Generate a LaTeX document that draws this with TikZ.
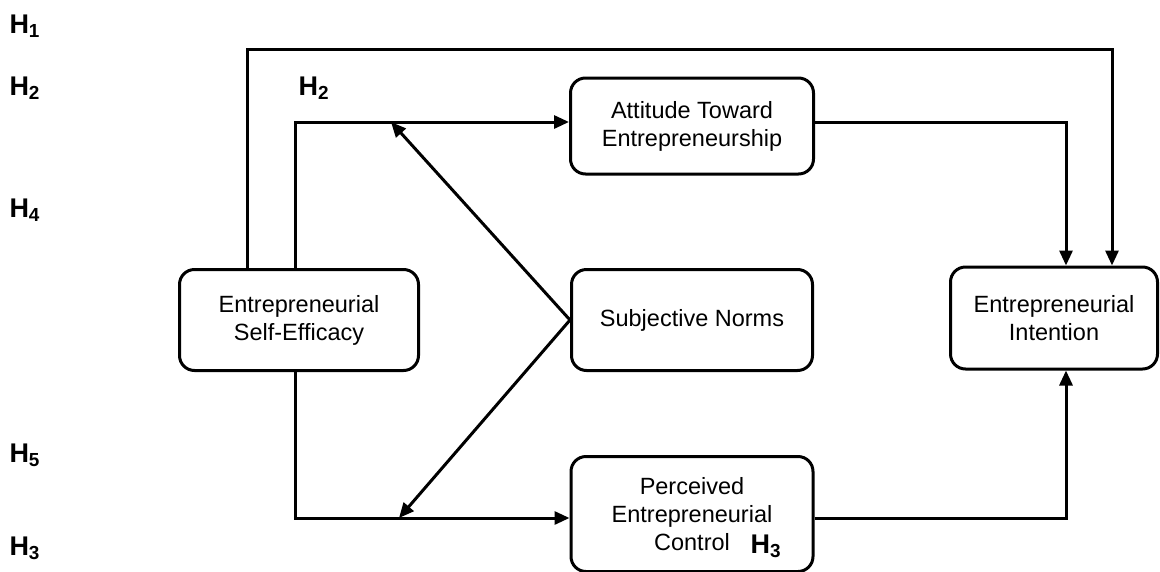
\documentclass[tikz,border=0pt]{standalone}
\usepackage{fontspec}
\setmainfont{Liberation Sans}
\usetikzlibrary{arrows.meta}

\begin{document}
\begin{tikzpicture}[x=1pt,y=-1pt,line width=3pt,
  box/.style={draw,rounded corners=15pt,align=center,inner sep=0pt,
    font=\fontsize{23.5}{28}\selectfont},
  arr/.style={-{Triangle[length=15pt,width=13pt]}},
  hyp/.style={anchor=base west,inner sep=0pt,font=\fontsize{27}{30}\selectfont\bfseries}]
  \useasboundingbox (0,0) rectangle (1160,571);
  % constructs
  \node[box,minimum width=239pt,minimum height=101pt](ese)at(299,320){Entrepreneurial\\Self-Efficacy};
  \node[box,minimum width=243pt,minimum height=96pt](ate)at(692,126){Attitude Toward\\Entrepreneurship};
  \node[box,minimum width=241pt,minimum height=101pt](sn)at(692,320){Subjective Norms};
  \node[box,minimum width=242pt,minimum height=115pt](pec)at(692,514){Perceived\\Entrepreneurial\\Control};
  \node[box,minimum width=207pt,minimum height=102pt](ei)at(1054,318){Entrepreneurial\\Intention};
  % bends
  \coordinate (p1) at (247,49);
  \coordinate (p2) at (1112,49);
  \coordinate (p3) at (295,122);
  \coordinate (p4) at (295,518);
  \coordinate (m1) at (391,122);
  \coordinate (m2) at (399,518);
  % paths
  \draw[arr] (ese.north -| p1) |- (p2) -- (ei.north -| p2);
  \draw[arr] (ese.north -| p3) |- (ate.west |- p3);
  \draw[arr] (ate.east |- p3) -| ([xshift=12pt]ei.north);
  \draw[arr] (ese.south -| p4) |- (pec.west |- p4);
  \draw[arr] (pec.east |- p4) -| ([xshift=12pt]ei.south);
  \draw[arr] (sn.west) -- (m1);
  \draw[arr] (sn.west) -- (m2);
  % hypotheses
  \node[hyp](h1)at(8,33){H\textsubscript{1}};
  \node[hyp](h2)at(8,95){H\textsubscript{2}};
  \node[hyp](h4)at(8,217){H\textsubscript{4}};
  \node[hyp](h5)at(8,462){H\textsubscript{5}};
  \node[hyp](h3)at(8,555){H\textsubscript{3}};
  \node[hyp](h2b)at(297,95){H\textsubscript{2}};
  \node[hyp](h3b)at(749,553){H\textsubscript{3}};
\end{tikzpicture}
\end{document}
